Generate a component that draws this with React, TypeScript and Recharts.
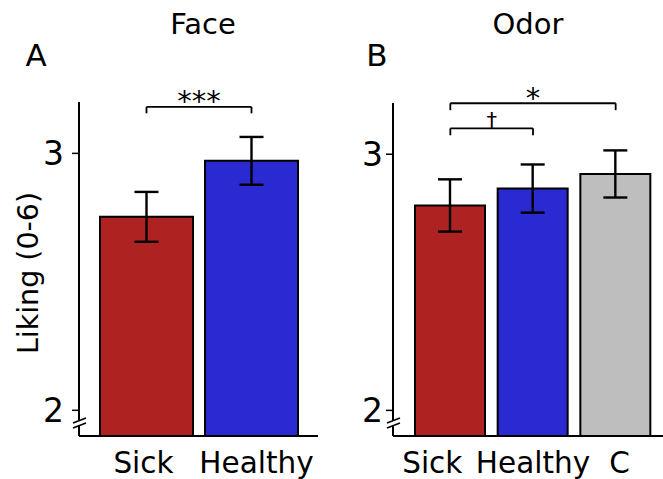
import React from 'react';
import { BarChart, Bar, Cell, XAxis, YAxis, ErrorBar, ReferenceLine } from 'recharts';

// values (liking, 0-6 scale, mean +/- se)
const faceGroups = ['Sick', 'Healthy'];
const faceMeans = [2.753, 2.971];
const faceSe = [0.097, 0.093];

const odorGroups = ['Sick', 'Healthy', 'C'];
const odorMeans = [2.8, 2.866, 2.923];
const odorSe = [0.102, 0.094, 0.092];

const yTicks = [2, 3];
const groupColors: Record<string, string> = { Sick: '#ae2222', Healthy: '#2a2ad2', C: '#bebebe' };

const FONT = 'DejaVu Sans';

const faceData = faceGroups.map((g, i) => ({ group: g, mean: faceMeans[i], se: faceSe[i] }));
const odorData = odorGroups.map((g, i) => ({ group: g, mean: odorMeans[i], se: odorSe[i] }));

const makeTick = (shift: number[]) => (props: any) => {
  const { x, y, payload, index } = props;
  return (
    <text x={x + (shift[index] ?? 0)} y={y} dy={37} textAnchor="middle" fontSize={29.5} fill="#000" fontFamily={FONT}>
      {payload.value}
    </text>
  );
};

function bracketLines(from: string, to: string, y: number, drop: number, label: string, size: number, dy: number, key: string) {
  const st = { stroke: '#000', strokeWidth: 1.8 };
  return [
    <ReferenceLine key={key + 'h'} segment={[{ x: from, y }, { x: to, y }]} ifOverflow="visible" {...st}
      label={{ value: label, position: 'center', dy, fontSize: size, fill: '#000', fontFamily: FONT }} />,
    <ReferenceLine key={key + 'l'} segment={[{ x: from, y }, { x: from, y: y - drop }]} ifOverflow="visible" {...st} />,
    <ReferenceLine key={key + 'r'} segment={[{ x: to, y }, { x: to, y: y - drop }]} ifOverflow="visible" {...st} />,
  ];
}

function Panel({ data, width, yAxisWidth, marginRight, marginTop, pad, barSize, tickMargin, shift, children }: any) {
  return (
    <BarChart width={width} height={479} data={data} margin={{ top: marginTop, right: marginRight, bottom: 0, left: 0 }}>
      <XAxis dataKey="group" interval={0} height={43} padding={pad} tickLine={false} tickSize={0} tickMargin={0}
        axisLine={{ stroke: '#000', strokeWidth: 2 }} tick={makeTick(shift)} />
      <YAxis type="number" domain={[1.9, 3.2]} ticks={yTicks} width={yAxisWidth} tickSize={7} tickMargin={tickMargin}
        axisLine={{ stroke: '#000', strokeWidth: 2 }} tickLine={{ stroke: '#000', strokeWidth: 1.5 }}
        tick={{ fontSize: 33, fill: '#000', fontFamily: FONT }} />
      <Bar dataKey="mean" barSize={barSize} stroke="#000" strokeWidth={2} isAnimationActive={false}>
        {data.map((d: any) => <Cell key={d.group} fill={groupColors[d.group]} />)}
        <ErrorBar dataKey="se" direction="y" width={12} stroke="#000" strokeWidth={2.4} />
      </Bar>
      {children}
    </BarChart>
  );
}

function BreakMark({ x, y }: { x: number; y: number }) {
  return (
    <g stroke="#000" strokeWidth={1.6}>
      <rect x={x - 2} y={y - 1} width={4} height={4} fill="#fff" stroke="none" />
      <line x1={x - 6} y1={y + 1} x2={x + 7} y2={y - 4} />
      <line x1={x - 6} y1={y + 6} x2={x + 7} y2={y + 1} />
    </g>
  );
}

export default function App() {
  return (
    <div style={{ position: 'absolute', left: 0, top: 0, width: 663, height: 479, background: '#fff', fontFamily: FONT }}>
      <div style={{ position: 'absolute', left: 0, top: 0 }}>
        <Panel data={faceData} width={330} yAxisWidth={79} marginRight={12} marginTop={102}
          pad={{ left: 15, right: 14 }} barSize={93} tickMargin={8} shift={[-3, 5]}>
          {bracketLines('Sick', 'Healthy', 3.181, 0.025, '***', 29, -6, 'a')}
        </Panel>
      </div>
      <div style={{ position: 'absolute', left: 330, top: 0 }}>
        <Panel data={odorData} width={333} yAxisWidth={63} marginRight={0} marginTop={103}
          pad={{ left: 16, right: 6 }} barSize={70} tickMargin={3} shift={[-18, 0, 4]}>
          {bracketLines('Sick', 'Healthy', 3.101, 0.027, '\u2020', 21, -8, 'b')}
          {bracketLines('Sick', 'C', 3.199, 0.027, '*', 29, -6, 'c')}
        </Panel>
      </div>
      <svg width={663} height={479} style={{ position: 'absolute', left: 0, top: 0, pointerEvents: 'none' }} fontFamily={FONT}>
        <text x={203} y={34} textAnchor="middle" fontSize={29} fill="#000">Face</text>
        <text x={528} y={34} textAnchor="middle" fontSize={29} fill="#000">Odor</text>
        <text x={36} y={66} textAnchor="middle" fontSize={31} fill="#000">A</text>
        <text x={377} y={66} textAnchor="middle" fontSize={31} fill="#000">B</text>
        <text x={37.5} y={273} textAnchor="middle" fontSize={28.5} fill="#000" transform="rotate(-90 37.5 273)">Liking (0-6)</text>
        <BreakMark x={79} y={422} />
        <BreakMark x={393} y={422} />
      </svg>
    </div>
  );
}
